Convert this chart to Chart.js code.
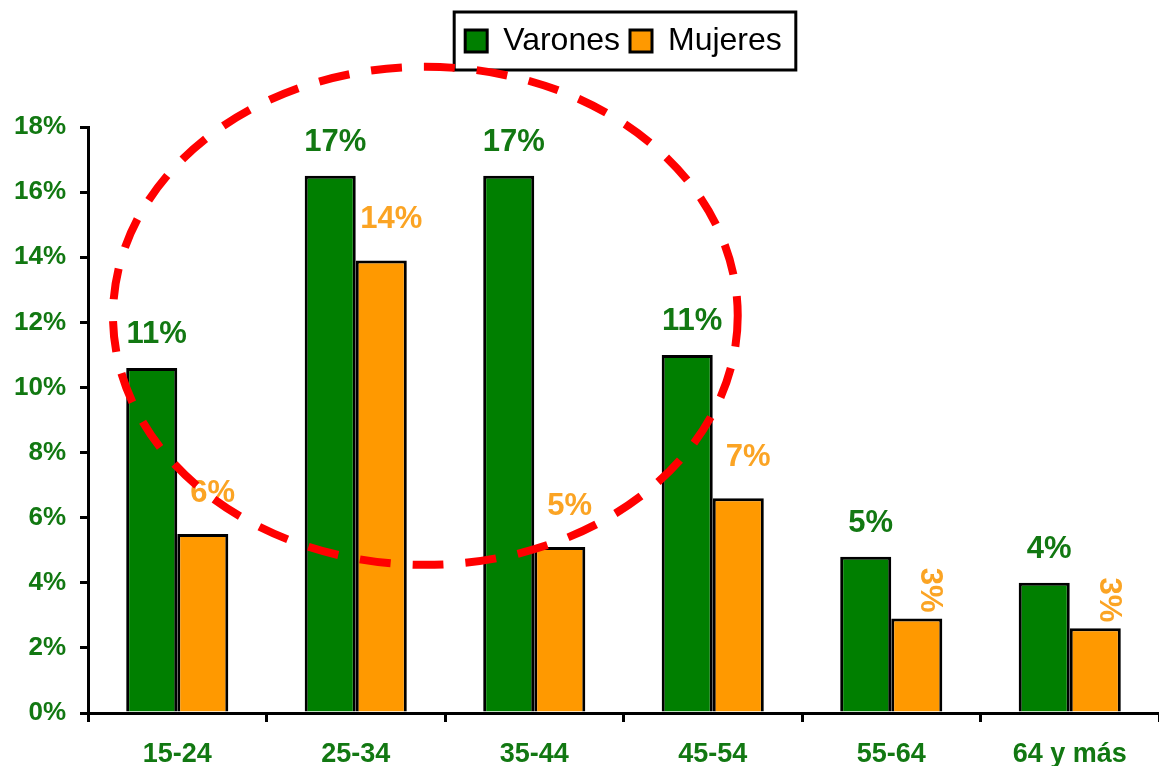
<!DOCTYPE html>
<html>
<head>
<meta charset="utf-8">
<title>Varones y Mujeres por edad</title>
<script src="https://cdn.jsdelivr.net/npm/chart.js@4.4.1/dist/chart.umd.min.js"></script>
<style>
  html, body { margin: 0; padding: 0; background: #fff; }
  .wrap { width: 1159px; height: 766px; position: relative; }
</style>
</head>
<body>
<div class="wrap"><canvas id="barChart"></canvas></div>
<script>
const edades = ['15-24', '25-34', '35-44', '45-54', '55-64', '64 y más'];
const varones = [10.6, 16.5, 16.5, 11.0, 4.8, 4.0];
const mujeres = [5.5, 13.9, 5.1, 6.6, 2.9, 2.6];
const yTicks = [0, 2, 4, 6, 8, 10, 12, 14, 16, 18];

const FONT = 'Arial, "Liberation Sans", sans-serif';
const GREEN = '#007F00';
const ORANGE = '#FF9900';
const GREEN_TEXT = '#127812';
const ORANGE_TEXT = '#FBA424';

// push the plot down below the legend
const legendMargin = {
    id: 'legendMargin',
    beforeInit(chart) {
        const fitValue = chart.legend.fit;
        chart.legend.fit = function fit() {
            fitValue.bind(chart.legend)();
            this.height += 60;
        };
    }
};

// percent labels over the bars
const barLabels = {
    id: 'barLabels',
    afterDatasetsDraw(chart) {
        const ctx = chart.ctx;
        chart.data.datasets.forEach((ds, i) => {
            const meta = chart.getDatasetMeta(i);
            meta.data.forEach((bar, j) => {
                const text = Math.round(ds.data[j]) + '%';
                ctx.save();
                ctx.font = 'bold 31px ' + FONT;
                ctx.fillStyle = ds.labelColor;
                ctx.textAlign = 'center';
                if (ds.verticalLabels && ds.verticalLabels.includes(j)) {
                    const w = ctx.measureText(text).width;
                    ctx.translate(bar.x + 13, bar.y - 6 - w / 2);
                    ctx.rotate(Math.PI / 2);
                    ctx.textBaseline = 'middle';
                    ctx.fillText(text, 0, 0);
                } else {
                    ctx.textBaseline = 'alphabetic';
                    ctx.fillText(text, bar.x + ds.labelDx, bar.y - ds.labelDy);
                }
                ctx.restore();
            });
        });
    }
};

// legend frame + red dashed ellipse on top of everything
const extras = {
    id: 'extras',
    afterDraw(chart, args, opts) {
        const ctx = chart.ctx;
        const boxes = chart.legend.legendHitBoxes;
        if (boxes && boxes.length) {
            const first = boxes[0], last = boxes[boxes.length - 1];
            ctx.save();
            ctx.strokeStyle = '#000';
            ctx.lineWidth = 3;
            ctx.strokeRect(first.left - 11, first.top - 13,
                last.left + last.width + 14 - (first.left - 11), first.height + 26);
            ctx.restore();
        }

        const x = chart.scales.x, y = chart.scales.y;
        const cx = x.getPixelForValue(opts.xCenter);
        const cy = y.getPixelForValue(opts.yCenter);
        const rx = x.getPixelForValue(opts.xCenter + opts.xRadius) - cx;
        const ry = cy - y.getPixelForValue(opts.yCenter + opts.yRadius);
        ctx.save();
        ctx.strokeStyle = '#FF0000';
        ctx.lineWidth = 8;
        ctx.setLineDash([31, 22]);
        ctx.beginPath();
        ctx.ellipse(cx, cy, rx, ry, opts.rotation, 0, Math.PI * 2);
        ctx.stroke();
        ctx.restore();
    }
};

new Chart(document.getElementById('barChart'), {
    type: 'bar',
    data: {
        labels: edades,
        datasets: [{
            label: 'Varones',
            data: varones,
            backgroundColor: GREEN,
            borderColor: '#000',
            borderWidth: 3,
            labelColor: GREEN_TEXT,
            labelDx: 5,
            labelDy: 25
        }, {
            label: 'Mujeres',
            data: mujeres,
            backgroundColor: ORANGE,
            borderColor: '#000',
            borderWidth: 3,
            labelColor: ORANGE_TEXT,
            labelDx: 10,
            labelDy: 32,
            verticalLabels: [4, 5]
        }]
    },
    options: {
        responsive: true,
        maintainAspectRatio: false,
        animation: false,
        categoryPercentage: 0.572,
        barPercentage: 1.0,
        layout: {
            padding: { top: 15, left: 0, right: 0, bottom: 0 }
        },
        scales: {
            x: {
                grid: { offset: true, drawOnChartArea: false, color: '#000', lineWidth: 3, tickLength: 9 },
                border: { color: '#000', width: 3 },
                ticks: {
                    color: GREEN_TEXT,
                    font: { family: FONT, size: 27, weight: 'bold' },
                    padding: 16,
                    maxRotation: 0
                },
                afterFit(scale) { scale.height = 53; }
            },
            y: {
                min: 0,
                max: 18,
                afterBuildTicks(scale) { scale.ticks = yTicks.map(v => ({ value: v })); },
                grid: { drawOnChartArea: false, color: '#000', lineWidth: 3, tickLength: 8 },
                border: { color: '#000', width: 3 },
                ticks: {
                    color: GREEN_TEXT,
                    font: { family: FONT, size: 26, weight: 'bold' },
                    padding: 14,
                    callback: v => v + '%'
                },
                afterFit(scale) { scale.width = 88; }
            }
        },
        plugins: {
            legend: {
                position: 'top',
                fullSize: false,
                labels: {
                    color: '#000',
                    font: { family: FONT, size: 32 },
                    boxWidth: 22,
                    boxHeight: 22,
                    padding: 10
                }
            },
            tooltip: { enabled: false },
            extras: { xCenter: 1.39, yCenter: 12.2, xRadius: 1.75, yRadius: 7.65, rotation: 0 }
        }
    },
    plugins: [legendMargin, barLabels, extras]
});
</script>
</body>
</html>
